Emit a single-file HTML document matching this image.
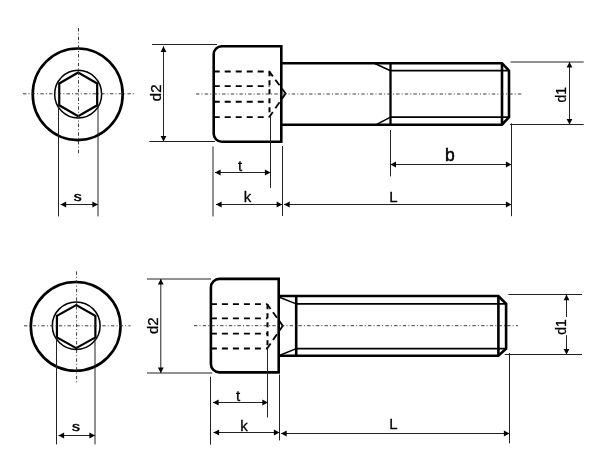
<!DOCTYPE html>
<html><head><meta charset="utf-8"><style>
html,body{margin:0;padding:0;background:#fff;}
body{width:603px;height:455px;overflow:hidden;}
svg{display:block;will-change:transform;font-family:"Liberation Sans",sans-serif;}
</style></head><body>
<svg width="603" height="455" viewBox="0 0 603 455">
<rect width="603" height="455" fill="#fff"/>
<ellipse cx="77.7" cy="94.3" rx="45" ry="45.8" fill="none" stroke="#000" stroke-width="2.6"/>
<ellipse cx="78.15" cy="94.15" rx="23.5" ry="23.8" fill="none" stroke="#000" stroke-width="1.5"/>
<polygon points="78.20,72.55 59.23,83.45 59.23,105.25 78.20,116.15 97.17,105.25 97.17,83.45" fill="none" stroke="#000" stroke-width="2.2" stroke-linejoin="miter"/>
<line x1="23" y1="93.8" x2="134" y2="93.8" stroke="#333" stroke-width="0.95" stroke-dasharray="3.4 2.1 1 2.2"/>
<line x1="78.5" y1="28" x2="78.5" y2="153.5" stroke="#333" stroke-width="0.95" stroke-dasharray="3.4 2.1 1 2.2"/>
<line x1="58.5" y1="105" x2="58.5" y2="216.4" stroke="#222" stroke-width="1.0" />
<line x1="98.0" y1="105" x2="98.0" y2="216.4" stroke="#222" stroke-width="1.0" />
<line x1="60.6" y1="204.5" x2="98.0" y2="204.5" stroke="#222" stroke-width="1.0" />
<polygon points="60.6,204.5 66.20,201.60 66.20,207.40" fill="#000"/>
<polygon points="98.0,204.5 92.40,207.40 92.40,201.60" fill="#000"/>
<text x="0" y="0" font-size="13" text-anchor="middle" font-weight="normal" stroke="#000" stroke-width="0.5" transform="translate(77.7 200.8) scale(1.22 1)">s</text>
<path d="M281.3,46.3 H221.7 A8,8 0 0 0 213.7,54.3 V133.7 A8,8 0 0 0 221.7,141.7 H281.3 Z" fill="none" stroke="#000" stroke-width="2.6"/>
<path d="M281.3,63.2 H502 L509,70.7 V117.2 L502,124.7 H281.3" fill="none" stroke="#000" stroke-width="2.6" stroke-linejoin="miter"/>
<line x1="502" y1="63.2" x2="502" y2="124.7" stroke="#000" stroke-width="2.6" />
<line x1="390.5" y1="63.2" x2="390.5" y2="124.7" stroke="#000" stroke-width="2.3" />
<line x1="390.7" y1="70.7" x2="509" y2="70.7" stroke="#000" stroke-width="1.8" />
<line x1="390.7" y1="117.2" x2="509" y2="117.2" stroke="#000" stroke-width="1.8" />
<line x1="374.3" y1="63.2" x2="390.5" y2="70.7" stroke="#000" stroke-width="1.5" />
<line x1="376.3" y1="124.7" x2="390.5" y2="117.2" stroke="#000" stroke-width="1.5" />
<line x1="213.7" y1="71.5" x2="269.5" y2="71.5" stroke="#000" stroke-width="1.9" stroke-dasharray="6 5"/>
<line x1="213.7" y1="86.1" x2="269.5" y2="86.1" stroke="#000" stroke-width="1.9" stroke-dasharray="6 5"/>
<line x1="213.7" y1="101.7" x2="269.5" y2="101.7" stroke="#000" stroke-width="1.9" stroke-dasharray="6 5"/>
<line x1="213.7" y1="117.1" x2="269.5" y2="117.1" stroke="#000" stroke-width="1.9" stroke-dasharray="6 5"/>
<line x1="269.5" y1="71.3" x2="269.5" y2="117.1" stroke="#000" stroke-width="2" stroke-dasharray="5 4"/>
<path d="M269.3,71.6 L285.6,93.5 L269.3,117.1" fill="none" stroke="#000" stroke-width="1.8" stroke-linejoin="miter" stroke-dasharray="5.96 4.17 6.95 3.97 12.82 4.17 7.30 4.38 6.26"/>
<line x1="196" y1="94" x2="522" y2="94" stroke="#333" stroke-width="0.95" stroke-dasharray="3.4 2.1 1 2.2"/>
<line x1="152" y1="44.5" x2="217" y2="44.5" stroke="#222" stroke-width="1.0" />
<line x1="149.3" y1="141.5" x2="215" y2="141.5" stroke="#222" stroke-width="1.0" />
<line x1="163.5" y1="46.3" x2="163.5" y2="141.5" stroke="#222" stroke-width="1.0" />
<polygon points="163.5,46.3 166.40,51.90 160.60,51.90" fill="#000"/>
<polygon points="163.5,141.5 160.60,135.90 166.40,135.90" fill="#000"/>
<text x="161.3" y="92.8" font-size="15" text-anchor="middle" font-weight="normal" stroke="#000" stroke-width="0.3" transform="rotate(-90 161.3 92.8)">d2</text>
<line x1="510.6" y1="62" x2="583.7" y2="62" stroke="#222" stroke-width="1.0" />
<line x1="510" y1="124.5" x2="583.7" y2="124.5" stroke="#222" stroke-width="1.0" />
<line x1="569.5" y1="62" x2="569.5" y2="124.6" stroke="#222" stroke-width="1.0" />
<polygon points="569.5,62 572.40,67.60 566.60,67.60" fill="#000"/>
<polygon points="569.5,124.6 566.60,119.00 572.40,119.00" fill="#000"/>
<text x="566" y="94.8" font-size="14" text-anchor="middle" font-weight="normal" stroke="#000" stroke-width="0.3" transform="rotate(-90 566 94.8)">d1</text>
<line x1="213" y1="146.5" x2="213" y2="216.4" stroke="#222" stroke-width="1.0" />
<line x1="270.5" y1="117" x2="270.5" y2="187.8" stroke="#222" stroke-width="1.0" />
<line x1="282.5" y1="146" x2="282.5" y2="216" stroke="#222" stroke-width="1.0" />
<line x1="390.5" y1="130" x2="390.5" y2="176.4" stroke="#222" stroke-width="1.0" />
<line x1="511.5" y1="123.4" x2="511.5" y2="216.2" stroke="#222" stroke-width="1.0" />
<line x1="215" y1="172.5" x2="270.5" y2="172.5" stroke="#222" stroke-width="1.0" />
<polygon points="215,172.5 220.60,169.60 220.60,175.40" fill="#000"/>
<polygon points="270.5,172.5 264.90,175.40 264.90,169.60" fill="#000"/>
<line x1="216" y1="204.5" x2="282.2" y2="204.5" stroke="#222" stroke-width="1.0" />
<polygon points="216,204.5 221.60,201.60 221.60,207.40" fill="#000"/>
<polygon points="282.2,204.5 276.60,207.40 276.60,201.60" fill="#000"/>
<line x1="284.1" y1="204.5" x2="511.5" y2="204.5" stroke="#222" stroke-width="1.0" />
<polygon points="284.1,204.5 289.70,201.60 289.70,207.40" fill="#000"/>
<polygon points="511.5,204.5 505.90,207.40 505.90,201.60" fill="#000"/>
<line x1="390.4" y1="164.5" x2="511.5" y2="164.5" stroke="#222" stroke-width="1.0" />
<polygon points="390.4,164.5 396.00,161.60 396.00,167.40" fill="#000"/>
<polygon points="511.5,164.5 505.90,167.40 505.90,161.60" fill="#000"/>
<text x="240" y="170.7" font-size="15" text-anchor="middle" font-weight="normal" stroke="#000" stroke-width="0.3">t</text>
<text x="247.5" y="201.9" font-size="15" text-anchor="middle" font-weight="normal" stroke="#000" stroke-width="0.3">k</text>
<text x="393.3" y="202.4" font-size="15" text-anchor="middle" font-weight="normal" stroke="#000" stroke-width="0.3">L</text>
<text x="449.8" y="160.9" font-size="17.5" text-anchor="middle" font-weight="normal" stroke="#000" stroke-width="0.5">b</text>
<ellipse cx="75.65" cy="326.35" rx="44.85" ry="44.35" fill="none" stroke="#000" stroke-width="2.6"/>
<ellipse cx="76.2" cy="325.7" rx="23.9" ry="23.75" fill="none" stroke="#000" stroke-width="1.5"/>
<polygon points="76.15,305.10 56.92,315.85 56.92,337.35 76.15,348.10 95.38,337.35 95.38,315.85" fill="none" stroke="#000" stroke-width="2.2" stroke-linejoin="miter"/>
<line x1="24" y1="325.8" x2="130.5" y2="325.8" stroke="#333" stroke-width="0.95" stroke-dasharray="3.4 2.1 1 2.2"/>
<line x1="76.6" y1="271.4" x2="76.6" y2="383" stroke="#333" stroke-width="0.95" stroke-dasharray="3.4 2.1 1 2.2"/>
<line x1="56.5" y1="337" x2="56.5" y2="444.4" stroke="#222" stroke-width="1.0" />
<line x1="95.0" y1="337" x2="95.0" y2="444.4" stroke="#222" stroke-width="1.0" />
<line x1="58.5" y1="435.5" x2="95.0" y2="435.5" stroke="#222" stroke-width="1.0" />
<polygon points="58.5,435.5 64.10,432.60 64.10,438.40" fill="#000"/>
<polygon points="95.0,435.5 89.40,438.40 89.40,432.60" fill="#000"/>
<text x="0" y="0" font-size="13" text-anchor="middle" font-weight="normal" stroke="#000" stroke-width="0.5" transform="translate(76 431) scale(1.22 1)">s</text>
<path d="M278.7,278.9 H219.4 A8.5,8.5 0 0 0 210.9,287.4 V363.9 A8.5,8.5 0 0 0 219.4,372.4 H278.7 Z" fill="none" stroke="#000" stroke-width="2.6"/>
<path d="M278.7,296.0 H498.4 L506.1,303.9 V348.6 L498.4,355.8 H278.7" fill="none" stroke="#000" stroke-width="2.6" stroke-linejoin="miter"/>
<line x1="498.4" y1="296.0" x2="498.4" y2="355.8" stroke="#000" stroke-width="2.6" />
<line x1="296.2" y1="296.0" x2="296.2" y2="355.8" stroke="#000" stroke-width="2.6" />
<line x1="296.2" y1="303.9" x2="506.1" y2="303.9" stroke="#000" stroke-width="1.8" />
<line x1="296.2" y1="348.6" x2="506.1" y2="348.6" stroke="#000" stroke-width="1.8" />
<line x1="278.7" y1="297.0" x2="296.2" y2="303.9" stroke="#000" stroke-width="1.5" />
<line x1="278.7" y1="355.8" x2="296.2" y2="348.6" stroke="#000" stroke-width="1.5" />
<line x1="210.9" y1="304.1" x2="267.5" y2="304.1" stroke="#000" stroke-width="1.9" stroke-dasharray="6 5"/>
<line x1="210.9" y1="318.4" x2="267.5" y2="318.4" stroke="#000" stroke-width="1.9" stroke-dasharray="6 5"/>
<line x1="210.9" y1="333.6" x2="267.5" y2="333.6" stroke="#000" stroke-width="1.9" stroke-dasharray="6 5"/>
<line x1="210.9" y1="348.5" x2="267.5" y2="348.5" stroke="#000" stroke-width="1.9" stroke-dasharray="6 5"/>
<line x1="267.5" y1="304.3" x2="267.5" y2="348.6" stroke="#000" stroke-width="2" stroke-dasharray="5 4"/>
<path d="M267.2,304.2 L282.8,325.8 L267.2,348.4" fill="none" stroke="#000" stroke-width="1.8" stroke-linejoin="miter" stroke-dasharray="5.81 4.07 6.78 3.88 12.40 3.99 6.99 4.19 5.99"/>
<line x1="194" y1="325.7" x2="518" y2="325.7" stroke="#333" stroke-width="0.95" stroke-dasharray="3.4 2.1 1 2.2"/>
<line x1="147" y1="279.0" x2="211" y2="279.0" stroke="#222" stroke-width="1.0" />
<line x1="147" y1="373.0" x2="212.3" y2="373.0" stroke="#222" stroke-width="1.0" />
<line x1="160.8" y1="279.0" x2="160.8" y2="373.0" stroke="#222" stroke-width="1.0" />
<polygon points="160.8,279.0 163.70,284.60 157.90,284.60" fill="#000"/>
<polygon points="160.8,373.0 157.90,367.40 163.70,367.40" fill="#000"/>
<text x="158.5" y="325.7" font-size="15" text-anchor="middle" font-weight="normal" stroke="#000" stroke-width="0.3" transform="rotate(-90 158.5 325.7)">d2</text>
<line x1="508.3" y1="294.5" x2="582" y2="294.5" stroke="#222" stroke-width="1.0" />
<line x1="504.7" y1="354.5" x2="582" y2="354.5" stroke="#222" stroke-width="1.0" />
<line x1="566.5" y1="294.6" x2="566.5" y2="317" stroke="#222" stroke-width="1.0" />
<line x1="566.5" y1="335.2" x2="566.5" y2="354.6" stroke="#222" stroke-width="1.0" />
<polygon points="566.5,294.6 569.40,300.20 563.60,300.20" fill="#000"/>
<polygon points="566.5,354.6 563.60,349.00 569.40,349.00" fill="#000"/>
<text x="566" y="326.9" font-size="14" text-anchor="middle" font-weight="normal" stroke="#000" stroke-width="0.3" transform="rotate(-90 566 326.9)">d1</text>
<line x1="210.5" y1="376.7" x2="210.5" y2="444.6" stroke="#222" stroke-width="1.0" />
<line x1="267.5" y1="348.6" x2="267.5" y2="417.4" stroke="#222" stroke-width="1.0" />
<line x1="279.5" y1="374.6" x2="279.5" y2="440.4" stroke="#222" stroke-width="1.0" />
<line x1="509.5" y1="353" x2="509.5" y2="443.4" stroke="#222" stroke-width="1.0" />
<line x1="213.0" y1="402.5" x2="267.9" y2="402.5" stroke="#222" stroke-width="1.0" />
<polygon points="213.0,402.5 218.60,399.60 218.60,405.40" fill="#000"/>
<polygon points="267.9,402.5 262.30,405.40 262.30,399.60" fill="#000"/>
<line x1="213.5" y1="432.5" x2="279.5" y2="432.5" stroke="#222" stroke-width="1.0" />
<polygon points="213.5,432.5 219.10,429.60 219.10,435.40" fill="#000"/>
<polygon points="279.5,432.5 273.90,435.40 273.90,429.60" fill="#000"/>
<line x1="281.1" y1="433.5" x2="509.5" y2="433.5" stroke="#222" stroke-width="1.0" />
<polygon points="281.1,433.5 286.70,430.60 286.70,436.40" fill="#000"/>
<polygon points="509.5,433.5 503.90,436.40 503.90,430.60" fill="#000"/>
<text x="238" y="400.7" font-size="15" text-anchor="middle" font-weight="normal" stroke="#000" stroke-width="0.3">t</text>
<text x="243.9" y="431" font-size="15" text-anchor="middle" font-weight="normal" stroke="#000" stroke-width="0.3">k</text>
<text x="393.3" y="428.5" font-size="15" text-anchor="middle" font-weight="normal" stroke="#000" stroke-width="0.3">L</text>
</svg></body></html>
